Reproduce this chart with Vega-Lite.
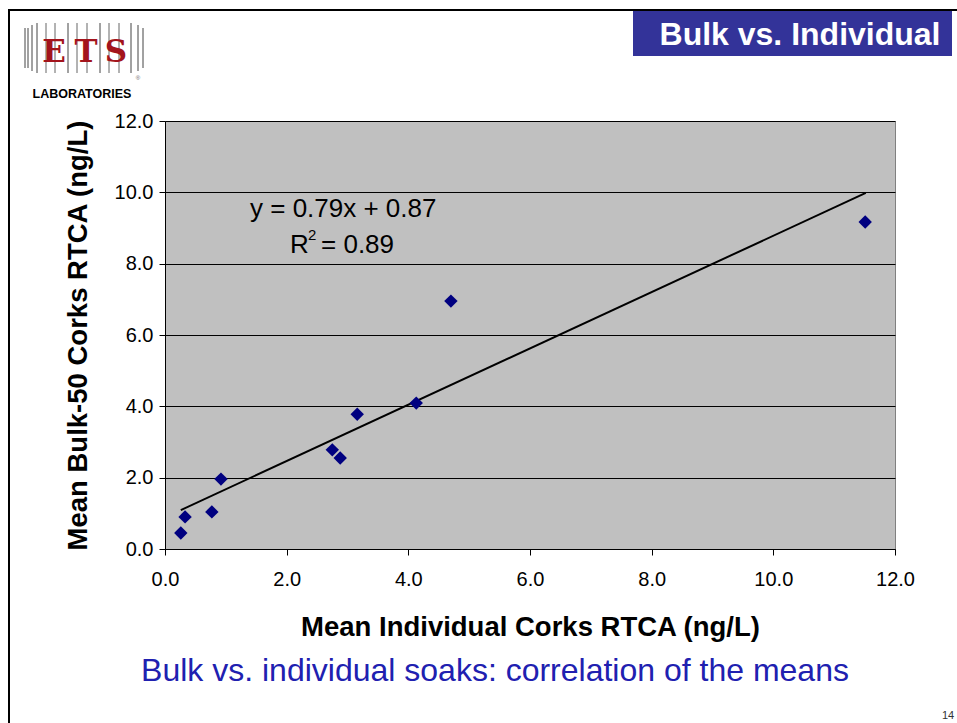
{
  "$schema": "https://vega.github.io/schema/vega-lite/v6.json",
  "width": 730,
  "height": 428,
  "autosize": {"type": "none"},
  "padding": {"left": 165, "top": 121, "right": 62, "bottom": 174},
  "background": "white",
  "config": {
    "font": "Liberation Sans",
    "view": {"fill": "#c0c0c0", "stroke": "#808080", "strokeWidth": 1}
  },
  "datasets": {
    "points": [
      {"x": 0.26, "y": 0.45},
      {"x": 0.33, "y": 0.90},
      {"x": 0.77, "y": 1.04},
      {"x": 0.92, "y": 1.96},
      {"x": 2.75, "y": 2.78},
      {"x": 2.88, "y": 2.55},
      {"x": 3.16, "y": 3.78},
      {"x": 4.13, "y": 4.09},
      {"x": 4.70, "y": 6.95},
      {"x": 11.51, "y": 9.17}
    ],
    "one": [{"k": 1}]
  },
  "layer": [
    {
      "data": {"name": "points"},
      "transform": [{"regression": "y", "on": "x", "extent": [0.26, 11.52]}],
      "mark": {"type": "line", "color": "black", "strokeWidth": 2, "clip": true},
      "encoding": {
        "x": {
          "field": "x", "type": "quantitative",
          "scale": {"domain": [0, 12], "nice": false, "zero": true},
          "axis": {
            "values": [0, 2, 4, 6, 8, 10, 12], "format": ".1f", "grid": false,
            "title": "Mean Individual Corks RTCA (ng/L)",
            "titleFontSize": 27.5, "titleFontWeight": "bold", "titleColor": "black", "titlePadding": 24,
            "labelFontSize": 20, "labelColor": "black", "labelPadding": 14,
            "tickSize": 6, "tickColor": "black", "domainColor": "black", "labelFlush": false
          }
        },
        "y": {
          "field": "y", "type": "quantitative",
          "scale": {"domain": [0, 12], "nice": false},
          "axis": {
            "values": [0, 2, 4, 6, 8, 10, 12], "format": ".1f", "grid": true, "gridColor": "black", "gridOpacity": 1, "gridWidth": 1,
            "title": "Mean Bulk-50 Corks RTCA (ng/L)",
            "titleFontSize": 27.5, "titleFontWeight": "bold", "titleColor": "black", "titlePadding": 22,
            "labelFontSize": 20, "labelColor": "black", "labelPadding": 6,
            "tickSize": 6, "tickColor": "black", "domainColor": "black", "labelFlush": false
          }
        }
      }
    },
    {
      "data": {"name": "points"},
      "mark": {"type": "point", "shape": "diamond", "filled": true, "color": "#000080", "opacity": 1, "size": 180},
      "encoding": {
        "x": {"field": "x", "type": "quantitative"},
        "y": {"field": "y", "type": "quantitative"}
      }
    },
    {
      "data": {"name": "one"},
      "mark": {"type": "text", "fontSize": 26, "color": "black", "align": "center", "baseline": "middle", "text": "y = 0.79x + 0.87"},
      "encoding": {"x": {"datum": 2.93, "type": "quantitative"}, "y": {"datum": 9.53, "type": "quantitative"}}
    },
    {
      "data": {"name": "one"},
      "mark": {"type": "text", "fontSize": 26, "color": "black", "align": "left", "baseline": "middle", "text": "R"},
      "encoding": {"x": {"datum": 2.055, "type": "quantitative"}, "y": {"datum": 8.52, "type": "quantitative"}}
    },
    {
      "data": {"name": "one"},
      "mark": {"type": "text", "fontSize": 15, "color": "black", "align": "left", "baseline": "middle", "text": "2", "dx": 18, "dy": -10},
      "encoding": {"x": {"datum": 2.055, "type": "quantitative"}, "y": {"datum": 8.52, "type": "quantitative"}}
    },
    {
      "data": {"name": "one"},
      "mark": {"type": "text", "fontSize": 26, "color": "black", "align": "left", "baseline": "middle", "text": "= 0.89", "dx": 31},
      "encoding": {"x": {"datum": 2.055, "type": "quantitative"}, "y": {"datum": 8.52, "type": "quantitative"}}
    },
    {
      "data": {"name": "one"},
      "mark": {"type": "rule", "color": "black", "strokeWidth": 2, "clip": false},
      "encoding": {"x": {"value": -156}, "y": {"value": -112}, "y2": {"value": 610}}
    },
    {
      "data": {"name": "one"},
      "mark": {"type": "rule", "color": "black", "strokeWidth": 2, "clip": false},
      "encoding": {"x": {"value": -157}, "x2": {"value": 800}, "y": {"value": -111}}
    },
    {
      "data": {"name": "one"},
      "mark": {"type": "rect", "color": "#333399", "clip": false},
      "encoding": {"x": {"value": 468}, "x2": {"value": 787}, "y": {"value": -110}, "y2": {"value": -65}}
    },
    {
      "data": {"name": "one"},
      "mark": {"type": "text", "color": "white", "fontSize": 32, "fontWeight": "bold", "align": "center", "baseline": "middle", "text": "Bulk vs. Individual", "clip": false},
      "encoding": {"x": {"value": 635}, "y": {"value": -86}}
    },
    {"data": {"name": "one"}, "mark": {"type": "rule", "color": "#444", "strokeWidth": 1}, "encoding": {"x": {"value": -140}, "y": {"value": -93}, "y2": {"value": -53}}},
    {"data": {"name": "one"}, "mark": {"type": "rule", "color": "#444", "strokeWidth": 1}, "encoding": {"x": {"value": -137}, "y": {"value": -93}, "y2": {"value": -53}}},
    {"data": {"name": "one"}, "mark": {"type": "rule", "color": "#444", "strokeWidth": 1}, "encoding": {"x": {"value": -133}, "y": {"value": -96}, "y2": {"value": -50}}},
    {"data": {"name": "one"}, "mark": {"type": "rule", "color": "#444", "strokeWidth": 1}, "encoding": {"x": {"value": -128}, "y": {"value": -98}, "y2": {"value": -48}}},
    {"data": {"name": "one"}, "mark": {"type": "rule", "color": "#666", "strokeWidth": 1}, "encoding": {"x": {"value": -119}, "y": {"value": -98}, "y2": {"value": -48}}},
    {"data": {"name": "one"}, "mark": {"type": "rule", "color": "#666", "strokeWidth": 1}, "encoding": {"x": {"value": -110}, "y": {"value": -98}, "y2": {"value": -48}}},
    {"data": {"name": "one"}, "mark": {"type": "rule", "color": "#444", "strokeWidth": 1}, "encoding": {"x": {"value": -97}, "y": {"value": -98}, "y2": {"value": -48}}},
    {"data": {"name": "one"}, "mark": {"type": "rule", "color": "#666", "strokeWidth": 1}, "encoding": {"x": {"value": -88}, "y": {"value": -98}, "y2": {"value": -48}}},
    {"data": {"name": "one"}, "mark": {"type": "rule", "color": "#666", "strokeWidth": 1}, "encoding": {"x": {"value": -78}, "y": {"value": -98}, "y2": {"value": -48}}},
    {"data": {"name": "one"}, "mark": {"type": "rule", "color": "#444", "strokeWidth": 1}, "encoding": {"x": {"value": -65}, "y": {"value": -98}, "y2": {"value": -48}}},
    {"data": {"name": "one"}, "mark": {"type": "rule", "color": "#666", "strokeWidth": 1}, "encoding": {"x": {"value": -56}, "y": {"value": -98}, "y2": {"value": -48}}},
    {"data": {"name": "one"}, "mark": {"type": "rule", "color": "#666", "strokeWidth": 1}, "encoding": {"x": {"value": -46}, "y": {"value": -98}, "y2": {"value": -48}}},
    {"data": {"name": "one"}, "mark": {"type": "rule", "color": "#444", "strokeWidth": 1}, "encoding": {"x": {"value": -34}, "y": {"value": -98}, "y2": {"value": -48}}},
    {"data": {"name": "one"}, "mark": {"type": "rule", "color": "#444", "strokeWidth": 1}, "encoding": {"x": {"value": -27}, "y": {"value": -96}, "y2": {"value": -50}}},
    {"data": {"name": "one"}, "mark": {"type": "rule", "color": "#444", "strokeWidth": 1}, "encoding": {"x": {"value": -22}, "y": {"value": -93}, "y2": {"value": -53}}},
    {
      "data": {"name": "one"},
      "mark": {"type": "text", "color": "#a3141c", "fontSize": 31, "fontWeight": "bold", "font": "DejaVu Serif", "align": "center", "baseline": "middle", "text": "E"},
      "encoding": {"x": {"value": -111}, "y": {"value": -68}}
    },
    {
      "data": {"name": "one"},
      "mark": {"type": "text", "color": "#a3141c", "fontSize": 31, "fontWeight": "bold", "font": "DejaVu Serif", "align": "center", "baseline": "middle", "text": "T"},
      "encoding": {"x": {"value": -79}, "y": {"value": -68}}
    },
    {
      "data": {"name": "one"},
      "mark": {"type": "text", "color": "#a3141c", "fontSize": 31, "fontWeight": "bold", "font": "DejaVu Serif", "align": "center", "baseline": "middle", "text": "S"},
      "encoding": {"x": {"value": -49}, "y": {"value": -68}}
    },
    {
      "data": {"name": "one"},
      "mark": {"type": "text", "color": "#666", "fontSize": 6, "align": "center", "baseline": "middle", "text": "®"},
      "encoding": {"x": {"value": -27}, "y": {"value": -43}}
    },
    {
      "data": {"name": "one"},
      "mark": {"type": "text", "color": "black", "fontSize": 12.5, "fontWeight": "bold", "align": "center", "baseline": "middle", "text": "LABORATORIES"},
      "encoding": {"x": {"value": -83}, "y": {"value": -27}}
    },
    {
      "data": {"name": "one"},
      "mark": {"type": "text", "color": "#2020b0", "fontSize": 32, "align": "center", "baseline": "middle", "text": "Bulk vs. individual soaks: correlation of the means"},
      "encoding": {"x": {"value": 330}, "y": {"value": 550}}
    },
    {
      "data": {"name": "one"},
      "mark": {"type": "text", "color": "#333", "fontSize": 11, "align": "center", "baseline": "middle", "text": "14"},
      "encoding": {"x": {"value": 783}, "y": {"value": 595}}
    }
  ]
}
